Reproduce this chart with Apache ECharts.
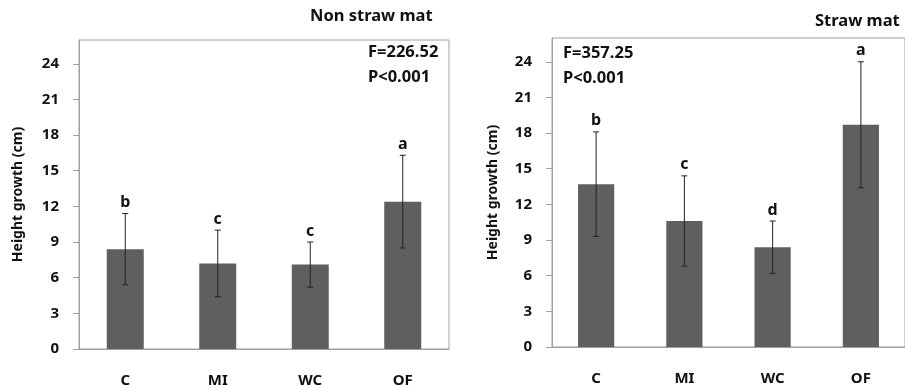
<!DOCTYPE html>
<html>
<head>
<meta charset="utf-8">
<script src="https://cdn.jsdelivr.net/npm/echarts@6/dist/echarts.min.js"></script>
<style>
  html, body { margin: 0; padding: 0; background: #fff; }
  #chart { width: 905px; height: 388px; }
</style>
</head>
<body>
<div id="chart"></div>
<script>
const categories = ['C', 'MI', 'WC', 'OF'];

// Non straw mat
const nonStrawMean = [8.4, 7.2, 7.1, 12.4];
const nonStrawErr = [3.0, 2.8, 1.9, 3.9];
const nonStrawLetters = ['b', 'c', 'c', 'a'];

// Straw mat
const strawMean = [13.7, 10.6, 8.4, 18.7];
const strawErr = [4.4, 3.8, 2.2, 5.3];
const strawLetters = ['b', 'c', 'd', 'a'];

const yMin = 0, yMax = 26, yStep = 3;

const FONT = '"Noto Sans", "DejaVu Sans", sans-serif';
const BAR_COLOR = '#5f5f5f';
const LINE_GRAY = '#a0a0a0';

let myChart = echarts.init(document.getElementById('chart'));

function errData(mean, err) {
	return mean.map(function (m, i) {
		return [i, +(m - err[i]).toFixed(2), +(m + err[i]).toFixed(2)];
	});
}

function errRender(letters) {
	return function (params, api) {
		let x = api.value(0);
		let top = api.coord([x, api.value(2)]);
		let bot = api.coord([x, api.value(1)]);
		let cap = 3;
		let st = { stroke: '#222', lineWidth: 1 };
		return {
			type: 'group',
			children: [
				{ type: 'line', shape: { x1: top[0], y1: top[1], x2: bot[0], y2: bot[1] }, style: st },
				{ type: 'line', shape: { x1: top[0] - cap, y1: top[1], x2: top[0] + cap, y2: top[1] }, style: st },
				{ type: 'line', shape: { x1: bot[0] - cap, y1: bot[1], x2: bot[0] + cap, y2: bot[1] }, style: st },
				{
					type: 'text',
					style: {
						text: letters[params.dataIndex],
						x: top[0], y: top[1] - 3,
						align: 'center', verticalAlign: 'bottom',
						font: 'bold 16px ' + FONT,
						fill: '#111'
					}
				}
			]
		};
	};
}

function xAxisCfg(gi) {
	return {
		type: 'category',
		gridIndex: gi,
		data: categories,
		axisLine: { show: true, lineStyle: { color: LINE_GRAY } },
		axisTick: { show: false },
		axisLabel: {
			margin: 24,
			color: '#111',
			fontFamily: FONT,
			fontWeight: 'bold',
			fontSize: 15
		}
	};
}

function yAxisCfg(gi, gap) {
	return {
		type: 'value',
		gridIndex: gi,
		min: yMin,
		max: yMax,
		interval: yStep,
		name: 'Height growth (cm)',
		nameLocation: 'middle',
		nameGap: gap,
		nameTextStyle: { color: '#111', fontFamily: FONT, fontWeight: 'bold', fontSize: 14 },
		axisLine: { show: true, lineStyle: { color: LINE_GRAY } },
		axisTick: { show: true, length: 6, lineStyle: { color: LINE_GRAY } },
		splitLine: { show: false },
		axisLabel: {
			showMaxLabel: false,
			margin: 20,
			color: '#111',
			fontFamily: FONT,
			fontWeight: 'bold',
			fontSize: 15
		}
	};
}

let option = {
	animation: false,
	grid: [
		{ left: 79, top: 40, width: 370, height: 310, show: true, borderColor: LINE_GRAY, borderWidth: 1 },
		{ left: 552, top: 38, width: 358, height: 309, show: true, borderColor: LINE_GRAY, borderWidth: 1 }
	],
	xAxis: [xAxisCfg(0), xAxisCfg(1)],
	yAxis: [yAxisCfg(0, 54), yAxisCfg(1, 52)],
	graphic: [
		{ type: 'text', left: 310, top: 8, style: { text: 'Non straw mat', font: 'bold 16.5px ' + FONT, fill: '#111' } },
		{ type: 'text', left: 368, top: 44, style: { text: 'F=226.52', font: 'bold 16.5px ' + FONT, fill: '#111' } },
		{ type: 'text', left: 368, top: 69, style: { text: 'P<0.001', font: 'bold 16.5px ' + FONT, fill: '#111' } },
		{ type: 'text', left: 815, top: 13, style: { text: 'Straw mat', font: 'bold 16.5px ' + FONT, fill: '#111' } },
		{ type: 'text', left: 563, top: 45, style: { text: 'F=357.25', font: 'bold 16.5px ' + FONT, fill: '#111' } },
		{ type: 'text', left: 563, top: 70, style: { text: 'P<0.001', font: 'bold 16.5px ' + FONT, fill: '#111' } }
	],
	series: [
		{
			name: 'Non straw mat',
			type: 'bar',
			xAxisIndex: 0,
			yAxisIndex: 0,
			data: nonStrawMean,
			barWidth: '40%',
			itemStyle: { color: BAR_COLOR }
		},
		{
			type: 'custom',
			xAxisIndex: 0,
			yAxisIndex: 0,
			data: errData(nonStrawMean, nonStrawErr),
			renderItem: errRender(nonStrawLetters),
			clip: false,
			z: 10
		},
		{
			name: 'Straw mat',
			type: 'bar',
			xAxisIndex: 1,
			yAxisIndex: 1,
			data: strawMean,
			barWidth: '41%',
			itemStyle: { color: BAR_COLOR }
		},
		{
			type: 'custom',
			xAxisIndex: 1,
			yAxisIndex: 1,
			data: errData(strawMean, strawErr),
			renderItem: errRender(strawLetters),
			clip: false,
			z: 10
		}
	]
};

myChart.setOption(option);
</script>
</body>
</html>
